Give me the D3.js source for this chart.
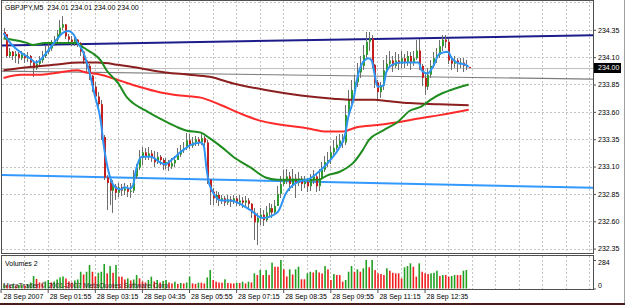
<!DOCTYPE html>
<html>
<head>
<meta charset="utf-8">
<script src="https://cdn.jsdelivr.net/npm/d3@7"></script>
<style>
  body { margin: 0; background: #fff; }
  svg { display: block; font-family: "Liberation Sans", Arial, sans-serif; }
</style>
</head>
<body>
<svg id="chart" width="625" height="305"></svg>
<script>
// GBPJPY M5, 28 Sep 2007. First bar opens at 00:40, one bar every 5 minutes.
const symbol = 'GBPJPY,M5';
const startMinute = 40;
const barMinutes = 5;
const firstOpen = 234.33;

const closes = [
  234.31, 234.11, 234.15, 234.11, 234.13, 234.09, 234.12, 234.09, 234.11, 234.05,
  234.00, 234.04, 234.07, 234.11, 234.15, 234.18, 234.22, 234.26, 234.31, 234.37,
  234.40, 234.29, 234.26, 234.24, 234.26, 234.23, 234.15, 234.07, 234.02, 233.93,
  233.83, 233.74, 233.67, 233.37, 233.00, 232.95, 232.88, 232.92, 232.86, 232.91,
  232.88, 232.90, 232.87, 232.88, 233.01, 233.09, 233.18, 233.23, 233.19, 233.22,
  233.18, 233.14, 233.19, 233.16, 233.11, 233.14, 233.10, 233.13, 233.16, 233.21,
  233.25, 233.27, 233.34, 233.29, 233.32, 233.35, 233.32, 233.36, 233.32, 232.98,
  232.87, 232.81, 232.84, 232.79, 232.81, 232.77, 232.80, 232.78, 232.81, 232.77,
  232.79, 232.77, 232.79, 232.76, 232.68, 232.59, 232.63, 232.66, 232.61, 232.68,
  232.72, 232.68, 232.74, 232.85, 232.94, 232.98, 233.01, 232.94, 232.99, 232.95,
  232.99, 232.94, 232.96, 232.92, 232.98, 233.01, 232.92, 232.99, 233.07, 233.14,
  233.16, 233.23, 233.27, 233.30, 233.34, 233.32, 233.57, 233.71, 233.80, 233.87,
  233.96, 234.02, 234.12, 234.24, 234.27, 234.03, 233.87, 233.78, 233.84, 233.98,
  234.04, 234.07, 234.02, 234.07, 234.04, 234.09, 234.05, 234.11, 234.05, 234.09,
  234.16, 234.02, 233.91, 233.83, 233.94, 234.02, 234.09, 234.12, 234.20, 234.26,
  234.24, 234.07, 234.04, 234.07, 234.04, 234.05, 234.02, 234.01, 234.00
];
const highs = [
  234.37, 234.26, 234.18, 234.16, 234.16, 234.15, 234.16, 234.14, 234.15, 234.12,
  234.07, 234.07, 234.11, 234.16, 234.20, 234.24, 234.26, 234.29, 234.35, 234.44,
  234.48, 234.40, 234.31, 234.29, 234.29, 234.27, 234.24, 234.16, 234.07, 234.04,
  233.94, 233.87, 233.78, 233.71, 233.39, 233.02, 232.98, 232.98, 232.94, 232.95,
  232.94, 232.95, 232.93, 232.95, 233.07, 233.12, 233.25, 233.28, 233.27, 233.28,
  233.25, 233.24, 233.23, 233.21, 233.18, 233.18, 233.16, 233.18, 233.20, 233.27,
  233.30, 233.32, 233.41, 233.40, 233.37, 233.38, 233.37, 233.40, 233.38, 233.34,
  232.99, 232.90, 232.88, 232.87, 232.84, 232.83, 232.84, 232.83, 232.84, 232.83,
  232.84, 232.82, 232.83, 232.81, 232.77, 232.72, 232.68, 232.72, 232.70, 232.74,
  232.77, 232.76, 232.79, 232.92, 233.01, 233.07, 233.08, 233.05, 233.08, 233.03,
  233.05, 233.01, 233.01, 232.99, 233.03, 233.07, 233.02, 233.08, 233.14, 233.20,
  233.23, 233.29, 233.34, 233.38, 233.40, 233.40, 233.66, 233.80, 233.89, 233.94,
  234.05, 234.11, 234.21, 234.33, 234.33, 234.30, 234.04, 233.89, 233.87, 234.07,
  234.12, 234.16, 234.11, 234.15, 234.13, 234.16, 234.13, 234.16, 234.15, 234.16,
  234.26, 234.27, 234.04, 233.96, 234.00, 234.07, 234.15, 234.18, 234.26, 234.30,
  234.30, 234.27, 234.11, 234.11, 234.09, 234.09, 234.09, 234.07, 234.01
];
const lows = [
  234.27, 234.09, 234.09, 234.07, 234.05, 234.04, 234.07, 234.05, 234.06, 234.02,
  233.92, 233.98, 234.02, 234.05, 234.09, 234.13, 234.16, 234.20, 234.24, 234.29,
  234.35, 234.27, 234.22, 234.20, 234.20, 234.19, 234.11, 234.04, 233.96, 233.89,
  233.78, 233.71, 233.63, 233.34, 232.98, 232.70, 232.75, 232.68, 232.79, 232.82,
  232.83, 232.84, 232.82, 232.81, 232.86, 232.99, 233.07, 233.11, 233.16, 233.16,
  233.14, 233.10, 233.12, 233.11, 233.07, 233.08, 233.06, 233.08, 233.10, 233.16,
  233.19, 233.22, 233.25, 233.26, 233.27, 233.29, 233.29, 233.30, 233.29, 232.94,
  232.75, 232.75, 232.77, 232.74, 232.76, 232.74, 232.75, 232.73, 232.76, 232.74,
  232.74, 232.72, 232.73, 232.70, 232.63, 232.43, 232.38, 232.57, 232.56, 232.59,
  232.65, 232.63, 232.66, 232.74, 232.81, 232.92, 232.94, 232.88, 232.90, 232.81,
  232.92, 232.88, 232.90, 232.87, 232.88, 232.94, 232.87, 232.88, 232.99, 233.05,
  233.10, 233.12, 233.19, 233.25, 233.27, 233.27, 233.30, 233.54, 233.67, 233.74,
  233.83, 233.91, 233.98, 234.07, 234.16, 234.00, 233.82, 233.71, 233.73, 233.80,
  233.96, 234.00, 233.96, 234.00, 233.98, 234.00, 234.00, 234.02, 233.98, 234.02,
  234.07, 233.98, 233.84, 233.75, 233.80, 233.91, 234.00, 234.05, 234.09, 234.16,
  234.18, 234.04, 233.98, 234.00, 233.96, 234.00, 233.96, 233.98, 234.00
];
const volumes = [
  40, 35, 30, 45, 30, 35, 40, 30, 45, 60,
  125, 95, 60, 50, 70, 85, 60, 70, 90, 110,
  120, 100, 70, 60, 80, 90, 167, 140, 167, 234,
  167, 120, 157, 167, 244, 151, 224, 157, 234, 118,
  118, 90, 101, 80, 90, 134, 101, 70, 60, 85,
  118, 70, 85, 60, 75, 85, 60, 50, 68, 45,
  55, 50, 60, 118, 51, 45, 58, 58, 50, 110,
  184, 85, 68, 60, 58, 92, 55, 51, 50, 58,
  55, 68, 50, 68, 60, 151, 134, 184, 134, 184,
  134, 257, 217, 217, 284, 191, 120, 191, 140, 191,
  217, 92, 92, 151, 167, 160, 184, 160, 150, 224,
  191, 85, 144, 134, 134, 68, 85, 167, 224, 167,
  191, 167, 201, 284, 211, 284, 184, 151, 144, 134,
  201, 177, 157, 151, 151, 101, 211, 224, 251, 217,
  118, 251, 167, 151, 144, 151, 157, 177, 124, 134,
  134, 118, 124, 134, 134, 134, 177, 184, 2
];

// moving averages: [bar, price]
const maFast = [
  [0, 234.32], [2, 234.24], [6, 234.14], [9, 234.09], [11, 234.05], [14, 234.12], [16, 234.19],
  [18, 234.26], [20, 234.32], [22, 234.34], [24, 234.30], [25, 234.24], [27, 234.15], [29, 233.98],
  [31, 233.75], [33, 233.52], [34, 233.30], [36, 233.02], [38, 232.91], [40, 232.89], [41, 232.91],
  [43, 232.90], [44, 232.93], [45, 233.07], [47, 233.19], [50, 233.19], [51, 233.18], [53, 233.14],
  [55, 233.12], [57, 233.16], [58, 233.18], [60, 233.23], [62, 233.27], [63, 233.29], [65, 233.31],
  [67, 233.32], [68, 233.29], [69, 233.07], [70, 232.93], [74, 232.79], [77, 232.79], [84, 232.70],
  [88, 232.63], [93, 232.68], [96, 232.86], [100, 232.96], [104, 232.99], [107, 233.05], [111, 233.16],
  [114, 233.27], [116, 233.39], [117, 233.54], [119, 233.73], [120, 233.89], [122, 234.05], [124, 234.09],
  [125, 234.07], [126, 233.95], [127, 233.83], [129, 233.84], [130, 233.96], [132, 234.03], [135, 234.05],
  [138, 234.05], [141, 234.05], [142, 233.98], [144, 233.95], [146, 234.02], [148, 234.13], [151, 234.15],
  [152, 234.10], [154, 234.05], [157, 234.03], [158, 234.01]
];
const maGreen = [
  [0, 234.27], [3, 234.26], [8, 234.23], [10, 234.21], [14, 234.23], [17, 234.23], [22, 234.23],
  [25, 234.23], [27, 234.19], [30, 234.14], [33, 234.07], [35, 233.98], [39, 233.86], [42, 233.73],
  [44, 233.68], [49, 233.60], [53, 233.54], [59, 233.46], [62, 233.43], [67, 233.41], [70, 233.36],
  [74, 233.28], [78, 233.19], [84, 233.09], [89, 233.00], [93, 232.98], [97, 232.98], [103, 232.98],
  [107, 232.98], [110, 233.02], [114, 233.05], [119, 233.14], [122, 233.25], [124, 233.34], [129, 233.43],
  [134, 233.51], [138, 233.61], [142, 233.65], [145, 233.71], [149, 233.77], [152, 233.80], [158, 233.85]
];
const maRed = [
  [0, 233.91], [6, 233.94], [13, 233.94], [19, 233.96], [25, 233.98], [28, 233.96], [33, 233.94],
  [39, 233.89], [46, 233.83], [53, 233.78], [60, 233.75], [67, 233.73], [74, 233.66], [80, 233.59],
  [87, 233.52], [95, 233.48], [103, 233.45], [110, 233.42], [115, 233.42], [120, 233.46], [127, 233.48],
  [135, 233.51], [141, 233.54], [148, 233.57], [158, 233.62]
];
const maMaroon = [
  [0, 233.98], [9, 234.01], [17, 234.03], [26, 234.05], [32, 234.05], [39, 234.03], [46, 234.00],
  [55, 233.96], [63, 233.94], [70, 233.92], [78, 233.86], [89, 233.80], [101, 233.75], [112, 233.72],
  [118, 233.71], [126, 233.71], [130, 233.70], [138, 233.68], [148, 233.67], [158, 233.66]
];

// trend lines (rays to the right edge)
const trendNavy = [[-1, 234.206], [201, 234.301]];
const trendBlue = [[-1, 233.024], [201, 232.906]];
const trendGray = [[-1, 233.973], [201, 233.899]];
const bidPrice = 234.00;

const priceTicks = [234.35, 234.10, 233.85, 233.60, 233.35, 233.10, 232.85, 232.60, 232.35];
const gridPrices = [234.60].concat(priceTicks);
const timeTicks = [35, 115, 195, 275, 355, 435, 515, 595, 675, 755];
const timeLabels = ['28 Sep 2007', '28 Sep 01:55', '28 Sep 03:15', '28 Sep 04:35', '28 Sep 05:55',
  '28 Sep 07:15', '28 Sep 08:35', '28 Sep 09:55', '28 Sep 11:15', '28 Sep 12:35'];
const volumeTicks = [284, 0];

const svg = d3.select('#chart');
const fmt = d3.format('.2f');

const x = d3.scaleLinear().domain([37.4, 1041.1]).range([2, 593]);
const y = d3.scaleLinear().domain([232.31, 234.604]).range([253, 2]);
const yv = d3.scaleLinear().domain([0, 284]).range([288.5, 260]);
const barX = k => x(startMinute + k * barMinutes);
const openOf = k => k === 0 ? firstOpen : closes[k - 1];

svg.append('rect').attr('width', 625).attr('height', 305).attr('fill', '#fff');

const defs = svg.append('defs');
defs.append('clipPath').attr('id', 'main-clip')
  .append('rect').attr('x', 2).attr('y', 1).attr('width', 591).attr('height', 252);
defs.append('clipPath').attr('id', 'vol-clip')
  .append('rect').attr('x', 2).attr('y', 256).attr('width', 591).attr('height', 33);

// grid
const grid = svg.append('g')
  .attr('stroke', '#c4c4c4')
  .attr('stroke-dasharray', '2,2')
  .attr('shape-rendering', 'crispEdges');

gridPrices.forEach(p => {
  const gy = Math.round(y(p)) + 0.5;
  grid.append('line').attr('x1', 2).attr('x2', 593).attr('y1', gy).attr('y2', gy);
});
for (let m = 35; m <= 1041; m += 40) {
  const gx = Math.round(x(m)) + 0.5;
  if (gx < 3) { continue; }
  grid.append('line').attr('x1', gx).attr('x2', gx).attr('y1', 1).attr('y2', 253);
  grid.append('line').attr('x1', gx).attr('x2', gx).attr('y1', 256).attr('y2', 289);
}

const main = svg.append('g').attr('clip-path', 'url(#main-clip)');

// bid line
main.append('line')
  .attr('x1', 2).attr('x2', 593)
  .attr('y1', Math.round(y(bidPrice)) + 0.5).attr('y2', Math.round(y(bidPrice)) + 0.5)
  .attr('stroke', '#c0c0c0')
  .attr('shape-rendering', 'crispEdges');

const straight = d3.line().x(d => barX(d[0])).y(d => y(d[1]));
main.append('path').attr('d', straight(trendGray))
  .attr('fill', 'none').attr('stroke', '#7c7c7c').attr('stroke-width', 1.2);
main.append('path').attr('d', straight(trendNavy))
  .attr('fill', 'none').attr('stroke', '#1c1c8a').attr('stroke-width', 2);
main.append('path').attr('d', straight(trendBlue))
  .attr('fill', 'none').attr('stroke', '#3399ff').attr('stroke-width', 2);

// candles
const candles = main.append('g')
  .selectAll('g')
  .data(closes)
  .join('g');

candles.append('line')
  .attr('x1', (d, k) => Math.round(barX(k)) + 0.5)
  .attr('x2', (d, k) => Math.round(barX(k)) + 0.5)
  .attr('y1', (d, k) => y(Math.max(highs[k], d, openOf(k))))
  .attr('y2', (d, k) => y(Math.min(lows[k], d, openOf(k))))
  .attr('stroke', '#6e6e6e')
  .attr('shape-rendering', 'crispEdges');

candles.append('rect')
  .attr('x', (d, k) => Math.round(barX(k)))
  .attr('width', 2)
  .attr('y', (d, k) => y(Math.max(d, openOf(k))))
  .attr('height', (d, k) => Math.max(1, Math.abs(y(d) - y(openOf(k)))))
  .attr('fill', (d, k) => d >= openOf(k) ? '#2f9a2f' : '#c41e1e');

// moving averages
const smooth = d3.line().x(d => barX(d[0])).y(d => y(d[1])).curve(d3.curveMonotoneX);
const maStyles = [
  { data: maMaroon, color: '#8b1e1e' },
  { data: maRed, color: '#ff2b2b' },
  { data: maGreen, color: '#1f8c1f' },
  { data: maFast, color: '#2f95f5' }
];
maStyles.forEach(m => {
  main.append('path').attr('d', smooth(m.data))
    .attr('fill', 'none').attr('stroke', m.color).attr('stroke-width', 2);
});

// volumes
const vol = svg.append('g').attr('clip-path', 'url(#vol-clip)');
vol.selectAll('rect')
  .data(volumes)
  .join('rect')
  .attr('x', (d, k) => barX(k) - 0.2)
  .attr('width', 1.6)
  .attr('y', d => yv(d))
  .attr('height', d => yv(0) - yv(d))
  .attr('fill', (d, k) => (k === 0 || d > volumes[k - 1]) ? '#22a022' : '#f02020');

// frames
const frame = svg.append('g')
  .attr('fill', 'none')
  .attr('stroke', '#505050')
  .attr('shape-rendering', 'crispEdges');
frame.append('rect').attr('x', 1.5).attr('y', 0.5).attr('width', 592).attr('height', 253);
frame.append('rect').attr('x', 1.5).attr('y', 255.5).attr('width', 592).attr('height', 34);

// window edges
svg.append('line')
  .attr('x1', 624.5).attr('x2', 624.5).attr('y1', 0).attr('y2', 303)
  .attr('stroke', '#a0a0a0').attr('shape-rendering', 'crispEdges');
svg.append('rect')
  .attr('x', 0).attr('y', 303).attr('width', 625).attr('height', 2)
  .attr('fill', '#4a1c1c');

// price axis
const yAxis = d3.axisRight(y).tickValues(priceTicks).tickSize(3).tickPadding(2).tickFormat(fmt);
const ya = svg.append('g').attr('transform', 'translate(593,0)').call(yAxis);
ya.select('.domain').remove();
ya.attr('font-size', 7).attr('font-family', null);
ya.selectAll('line').attr('stroke', '#505050');
ya.selectAll('text').attr('fill', '#000');

// current price label
const bidY = y(bidPrice);
svg.append('rect')
  .attr('x', 594).attr('y', Math.round(bidY) - 5)
  .attr('width', 27).attr('height', 10)
  .attr('fill', '#000');
svg.append('text')
  .attr('x', 598).attr('y', bidY).attr('dy', '0.34em')
  .attr('font-size', 7).attr('fill', '#fff')
  .text(fmt(bidPrice));

// volume axis
const vAxis = d3.axisRight(yv).tickValues(volumeTicks).tickSize(3).tickPadding(2);
const va = svg.append('g').attr('transform', 'translate(593,0)').call(vAxis);
va.select('.domain').remove();
va.attr('font-size', 7).attr('font-family', null);
va.selectAll('line').attr('stroke', '#505050');
va.selectAll('text').attr('fill', '#000').attr('dy', d => d === 0 ? '-0.2em' : '0.6em');

// time axis
const xAxis = d3.axisBottom(x).tickValues(timeTicks).tickSize(4)
  .tickFormat((d, i) => timeLabels[i]);
const xa = svg.append('g').attr('transform', 'translate(0,289)').call(xAxis);
xa.select('.domain').remove();
xa.attr('font-size', 7).attr('font-family', null);
xa.selectAll('line').attr('stroke', '#505050');
xa.selectAll('text')
  .attr('fill', '#000')
  .attr('text-anchor', 'start')
  .attr('x', 1.5)
  .attr('y', 10)
  .attr('dy', null);
xa.selectAll('.tick').filter(d => d === timeTicks[0]).select('text').attr('x', 2.5);

// labels
const last = closes.length - 1;
svg.append('text')
  .attr('x', 5).attr('y', 10)
  .attr('font-size', 7).attr('fill', '#000')
  .style('white-space', 'pre')
  .text(`${symbol}  ${fmt(openOf(last))} ${fmt(highs[last])} ${fmt(lows[last])} ${fmt(closes[last])}`);

svg.append('text')
  .attr('x', 5).attr('y', 266)
  .attr('font-size', 7).attr('fill', '#000')
  .text(`Volumes ${volumes[last]}`);

svg.append('text')
  .attr('x', 3).attr('y', 288)
  .attr('font-size', 7).attr('fill', '#333')
  .text('MetaTrader © 2001-2007 MetaQuotes Software Corp.');
</script>
</body>
</html>
